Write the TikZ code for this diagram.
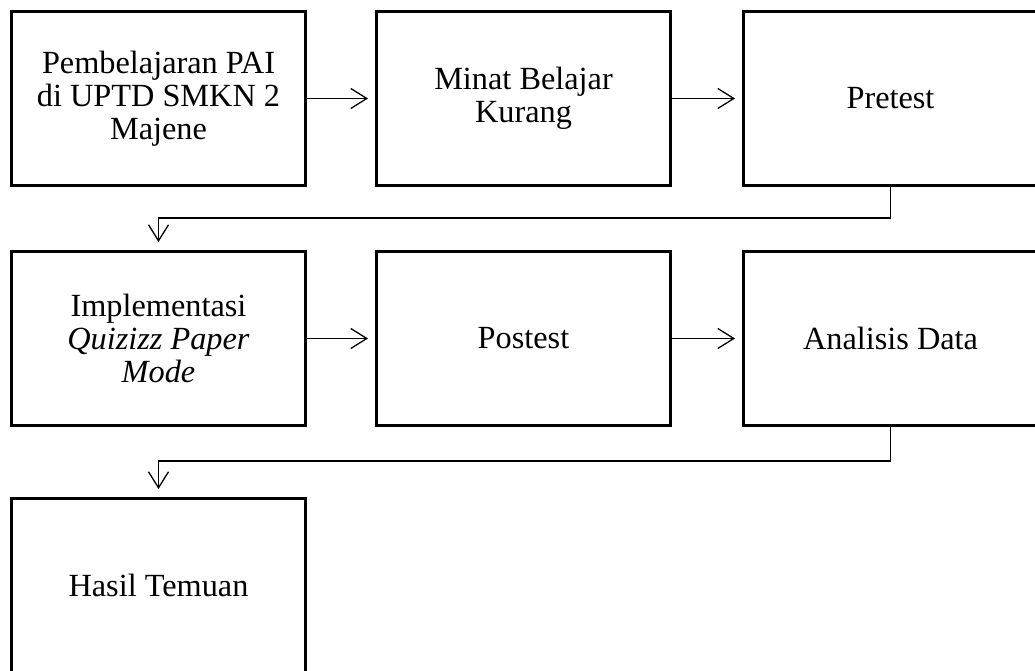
\documentclass[tikz,border=0pt]{standalone}
\usepackage{fontspec}
\setmainfont{Liberation Serif}
\usetikzlibrary{arrows.meta}
\begin{document}
\begin{tikzpicture}[x=1pt,y=-1pt,
  box/.style={draw, line width=3pt, minimum width=294pt, minimum height=174pt,
    inner sep=0pt, align=center, font=\fontsize{32.3pt}{33pt}\selectfont},
  conn/.style={line width=1.3pt, -{Straight Barb[length=16pt,width=20pt,line width=1.3pt]}}]
\useasboundingbox (0,0) rectangle (1035,671);
\node[box] (b1) at (158.5,98.5) {Pembelajaran PAI\\di UPTD SMKN 2\\Majene};
\node[box] (b2) at (523.5,98.5) {Minat Belajar\\Kurang};
\node[box] (b3) at (890.5,98.5) {Pretest};
\node[box] (b4) at (158.5,338.5) {Implementasi\\\textit{Quizizz Paper}\\\textit{Mode}};
\node[box] (b5) at (523.5,338.5) {Postest};
\node[box] (b6) at (890.5,338.5) {Analisis Data};
\node[box] (b7) at (158.5,585.5) {Hasil Temuan};
\draw[conn, shorten >=7pt] (b1) -- (b2);
\draw[conn, shorten >=7pt] (b2) -- (b3);
\draw[conn, shorten >=7pt] (b4) -- (b5);
\draw[conn, shorten >=7pt] (b5) -- (b6);
\draw[conn, shorten >=8pt] (b3.south) -- ++(0,31) -| (b4.north);
\draw[conn, shorten >=8pt] (b6.south) -- ++(0,34) -| (b7.north);
\end{tikzpicture}
\end{document}
